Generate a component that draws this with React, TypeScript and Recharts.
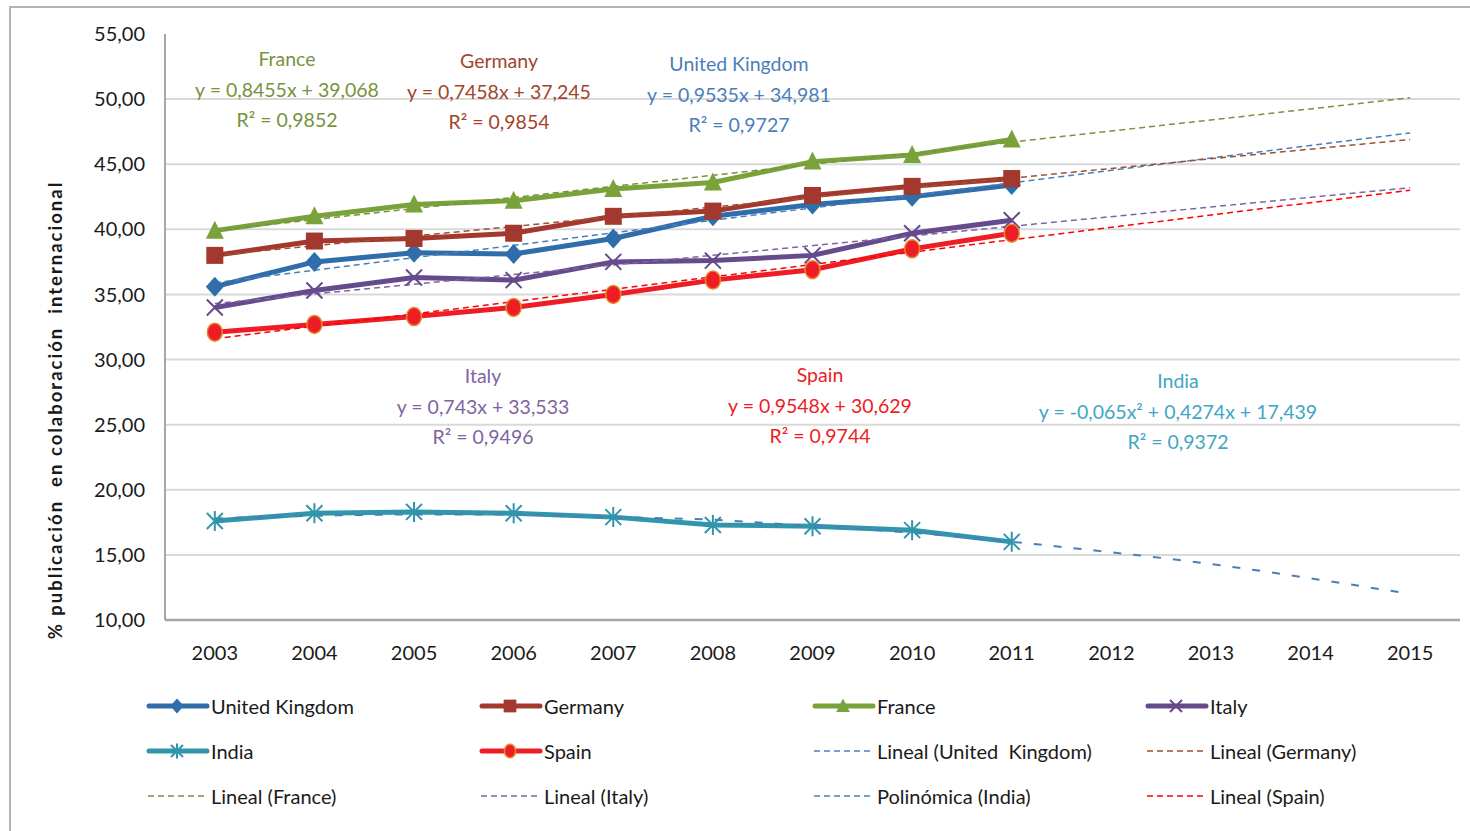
import React from 'react';
import { LineChart, Line, XAxis, YAxis, ReferenceLine } from 'recharts';

const years = [2003, 2004, 2005, 2006, 2007, 2008, 2009, 2010, 2011];
const axisYears = [2003, 2004, 2005, 2006, 2007, 2008, 2009, 2010, 2011, 2012, 2013, 2014, 2015];
const yTicks = [10, 15, 20, 25, 30, 35, 40, 45, 50, 55];
const gridValues = [15, 20, 25, 30, 35, 40, 45, 50];

const uk = [35.6, 37.5, 38.2, 38.1, 39.3, 41.0, 41.9, 42.5, 43.4];
const germany = [38.0, 39.1, 39.3, 39.7, 41.0, 41.4, 42.6, 43.3, 43.9];
const france = [39.9, 41.0, 41.9, 42.2, 43.1, 43.6, 45.2, 45.7, 46.9];
const italy = [34.0, 35.3, 36.3, 36.1, 37.5, 37.6, 38.0, 39.7, 40.7];
const india = [17.6, 18.2, 18.3, 18.2, 17.9, 17.3, 17.2, 16.9, 16.0];
const spain = [32.1, 32.7, 33.3, 34.0, 35.0, 36.1, 36.9, 38.5, 39.7];

// trend lines (start and end of the straight ones)
const trendYears = [2003, 2015];
const ukTrend = [35.9, 47.4];
const germanyTrend = [38.0, 46.9];
const franceTrend = [39.9, 50.1];
const italyTrend = [34.3, 43.2];
const spainTrend = [31.6, 43.0];
const indiaTrend = [17.8, 18.0, 18.1, 18.1, 17.9, 17.7, 17.2, 16.7, 16.0, 15.2, 14.3, 13.2, 12.0];

const annotationTitles = ['France', 'Germany', 'United Kingdom', 'Italy', 'Spain', 'India'];
const annotationEquations = [
  'y = 0,8455x + 39,068',
  'y = 0,7458x + 37,245',
  'y = 0,9535x + 34,981',
  'y = 0,743x + 33,533',
  'y = 0,9548x + 30,629',
  'y = -0,065x² + 0,4274x + 17,439',
];
const annotationR2 = ['R² = 0,9852', 'R² = 0,9854', 'R² = 0,9727', 'R² = 0,9496', 'R² = 0,9744', 'R² = 0,9372'];

const FONT = 'Lato, "Open Sans", sans-serif';
const C = {
  uk: '#2f6eaa',
  germany: '#a3382f',
  france: '#79a23b',
  italy: '#654a8c',
  india: '#3195ab',
  spain: '#ee1c24',
  spainEdge: '#e5892d',
  ukTrend: '#4a7ebb',
  germanyTrend: '#a0522d',
  franceTrend: '#77933c',
  italyTrend: '#8064a2',
  spainTrend: '#ff0000',
};
const annotationColors = ['#77933c', '#a3442a', '#4a7ebb', '#8064a2', '#ee1c24', '#3fa6c4'];
const annotationPos = [
  { x: 287, y: 44 },
  { x: 499, y: 46 },
  { x: 739, y: 49 },
  { x: 483, y: 361 },
  { x: 820, y: 360 },
  { x: 1178, y: 366 },
];

const data = years.map((year, i) => ({
  year,
  uk: uk[i],
  germany: germany[i],
  france: france[i],
  italy: italy[i],
  india: india[i],
  spain: spain[i],
}));

const trendRows = (vals: number[]) => trendYears.map((year, i) => ({ year, v: vals[i] }));
const indiaTrendRows = axisYears.map((year, i) => ({ year, v: indiaTrend[i] }));

type Shape = 'diamond' | 'square' | 'triangle' | 'x' | 'star' | 'circle';

function Marker({ shape, cx, cy, s = 1 }: { shape: Shape; cx: number; cy: number; s?: number }) {
  if (shape === 'diamond')
    return <path d={`M${cx},${cy - 10 * s}L${cx + 9 * s},${cy}L${cx},${cy + 10 * s}L${cx - 9 * s},${cy}Z`} fill={C.uk} />;
  if (shape === 'square')
    return <rect x={cx - 8.5 * s} y={cy - 8.5 * s} width={17 * s} height={17 * s} fill={C.germany} />;
  if (shape === 'triangle')
    return <path d={`M${cx},${cy - 10 * s}L${cx + 9 * s},${cy + 8 * s}L${cx - 9 * s},${cy + 8 * s}Z`} fill={C.france} />;
  if (shape === 'x')
    return (
      <path
        d={`M${cx - 8 * s},${cy - 8 * s}L${cx + 8 * s},${cy + 8 * s}M${cx + 8 * s},${cy - 8 * s}L${cx - 8 * s},${cy + 8 * s}`}
        stroke={C.italy}
        strokeWidth={2}
      />
    );
  if (shape === 'star')
    return (
      <path
        d={`M${cx - 8 * s},${cy - 8 * s}L${cx + 8 * s},${cy + 8 * s}M${cx + 8 * s},${cy - 8 * s}L${cx - 8 * s},${cy + 8 * s}M${cx},${cy - 10 * s}L${cx},${cy + 10 * s}`}
        stroke={C.india}
        strokeWidth={2}
      />
    );
  return <ellipse cx={cx} cy={cy} rx={7.5 * s} ry={9 * s} fill={C.spain} stroke={C.spainEdge} strokeWidth={1.5} />;
}

const dotFor = (shape: Shape) => (p: any) => <Marker key={`${shape}-${p.index}`} shape={shape} cx={p.cx} cy={p.cy} />;

const legendItems: { label: string; color: string; shape?: Shape; dashed?: boolean }[] = [
  { label: 'United Kingdom', color: C.uk, shape: 'diamond' },
  { label: 'Germany', color: C.germany, shape: 'square' },
  { label: 'France', color: C.france, shape: 'triangle' },
  { label: 'Italy', color: C.italy, shape: 'x' },
  { label: 'India', color: C.india, shape: 'star' },
  { label: 'Spain', color: C.spain, shape: 'circle' },
  { label: 'Lineal (United  Kingdom)', color: C.ukTrend, dashed: true },
  { label: 'Lineal (Germany)', color: C.germanyTrend, dashed: true },
  { label: 'Lineal (France)', color: C.franceTrend, dashed: true },
  { label: 'Lineal (Italy)', color: C.italyTrend, dashed: true },
  { label: 'Polinómica (India)', color: C.ukTrend, dashed: true },
  { label: 'Lineal (Spain)', color: C.spainTrend, dashed: true },
];

function LegendBlock() {
  return (
    <div style={{ position: 'absolute', left: 146, top: 684, width: 1330 }}>
      {legendItems.map((it, i) => {
        const col = i % 4;
        const row = Math.floor(i / 4);
        return (
          <div
            key={it.label}
            style={{
              position: 'absolute',
              left: col * 333,
              top: row * 45,
              height: 44,
              display: 'flex',
              alignItems: 'center',
              whiteSpace: 'pre',
            }}
          >
            <svg width={64} height={24} style={{ marginRight: 1 }}>
              {it.dashed ? (
                <line x1={2} y1={12} x2={62} y2={12} stroke={it.color} strokeWidth={1.5} strokeDasharray="6 4" />
              ) : (
                <>
                  <line x1={3} y1={12} x2={61} y2={12} stroke={it.color} strokeWidth={5} strokeLinecap="round" />
                  <Marker shape={it.shape as Shape} cx={31} cy={12} s={0.75} />
                </>
              )}
            </svg>
            <span style={{ fontFamily: FONT, fontSize: 20, color: '#1a1a1a' }}>{it.label}</span>
          </div>
        );
      })}
    </div>
  );
}

function Annotations() {
  return (
    <>
      {annotationTitles.map((t, i) => (
        <div
          key={t}
          style={{
            position: 'absolute',
            left: annotationPos[i].x - 250,
            top: annotationPos[i].y,
            width: 500,
            textAlign: 'center',
            fontFamily: FONT,
            fontSize: 19.5,
            lineHeight: '30.5px',
            color: annotationColors[i],
            whiteSpace: 'pre',
          }}
        >
          <div>{t}</div>
          <div>{annotationEquations[i]}</div>
          <div>{annotationR2[i]}</div>
        </div>
      ))}
    </>
  );
}

export default function App() {
  const tick = { fill: '#1a1a1a', fontSize: 20, fontFamily: FONT };
  return (
    <div style={{ position: 'relative', width: 1470, height: 831, overflow: 'hidden', background: '#fff' }}>
      <style>{'body{margin:0}'}</style>
      <div
        style={{
          position: 'absolute',
          left: 9,
          top: 6,
          width: 1500,
          height: 900,
          border: '2px solid #b3b3b3',
        }}
      />
      <div style={{ position: 'absolute', left: 0, top: 0 }}>
        <LineChart width={1470} height={831} data={data} margin={{ top: 34, right: 10, bottom: 171, left: 0 }}>
          {gridValues.map((v) => (
            <ReferenceLine key={v} y={v} stroke="#d9d9d9" strokeWidth={2} />
          ))}
          <XAxis
            dataKey="year"
            type="number"
            domain={[2002.5, 2015.5]}
            ticks={axisYears}
            interval={0}
            height={40}
            tick={tick}
            tickLine={false}
            tickSize={0}
            tickMargin={26}
            axisLine={{ stroke: '#a6a6a6', strokeWidth: 2.5 }}
          />
          <YAxis
            domain={[10, 55]}
            ticks={yTicks}
            width={165}
            interval={0}
            tick={tick}
            tickLine={false}
            tickSize={0}
            tickMargin={20}
            tickFormatter={(v: number) => v.toFixed(2).replace('.', ',')}
            axisLine={{ stroke: '#a6a6a6', strokeWidth: 2 }}
          />
          <Line dataKey="uk" stroke={C.uk} strokeWidth={5} dot={dotFor('diamond')} isAnimationActive={false} />
          <Line dataKey="germany" stroke={C.germany} strokeWidth={5} dot={dotFor('square')} isAnimationActive={false} />
          <Line dataKey="france" stroke={C.france} strokeWidth={5} dot={dotFor('triangle')} isAnimationActive={false} />
          <Line dataKey="italy" stroke={C.italy} strokeWidth={5} dot={dotFor('x')} isAnimationActive={false} />
          <Line dataKey="india" stroke={C.india} strokeWidth={5} dot={dotFor('star')} isAnimationActive={false} />
          <Line dataKey="spain" stroke={C.spain} strokeWidth={5} dot={dotFor('circle')} isAnimationActive={false} />

          <Line data={trendRows(ukTrend)} dataKey="v" stroke={C.ukTrend} strokeWidth={1.5} strokeDasharray="6 4" dot={false} isAnimationActive={false} />
          <Line data={trendRows(germanyTrend)} dataKey="v" stroke={C.germanyTrend} strokeWidth={1.5} strokeDasharray="6 4" dot={false} isAnimationActive={false} />
          <Line data={trendRows(franceTrend)} dataKey="v" stroke={C.franceTrend} strokeWidth={1.5} strokeDasharray="6 4" dot={false} isAnimationActive={false} />
          <Line data={trendRows(italyTrend)} dataKey="v" stroke={C.italyTrend} strokeWidth={1.5} strokeDasharray="6 4" dot={false} isAnimationActive={false} />
          <Line data={trendRows(spainTrend)} dataKey="v" stroke={C.spainTrend} strokeWidth={1.5} strokeDasharray="6 4" dot={false} isAnimationActive={false} />
          <Line data={indiaTrendRows} dataKey="v" type="monotone" stroke={C.ukTrend} strokeWidth={2} strokeDasharray="8 12" dot={false} isAnimationActive={false} />
        </LineChart>
      </div>
      <div
        style={{
          position: 'absolute',
          left: 55,
          top: 410,
          transform: 'translate(-50%, -50%) rotate(-90deg)',
          whiteSpace: 'pre',
          fontFamily: FONT,
          fontWeight: 700,
          fontSize: 18.5,
          letterSpacing: 2,
          color: '#1a1a1a',
        }}
      >
        {'% publicación  en colaboración  internacional'}
      </div>
      <Annotations />
      <LegendBlock />
    </div>
  );
}
